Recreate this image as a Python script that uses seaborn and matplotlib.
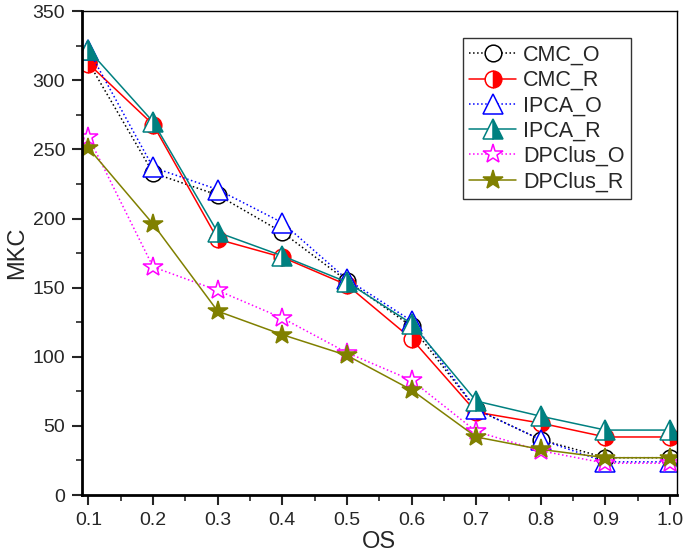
import matplotlib
matplotlib.use("Agg")
import matplotlib.pyplot as plt
import matplotlib.ticker as ticker
import seaborn as sns
import pandas as pd

# values
os_values = [0.1, 0.2, 0.3, 0.4, 0.5, 0.6, 0.7, 0.8, 0.9, 1.0]
cmc_o = [313, 233, 217, 190, 155, 122, 62, 40, 27, 27]
cmc_r = [312, 268, 185, 172, 152, 113, 60, 52, 42, 42]
ipca_o = [322, 237, 221, 197, 156, 126, 62, 40, 24, 24]
ipca_r = [322, 270, 190, 173, 154, 124, 68, 57, 47, 47]
dpclus_o = [259, 165, 148, 128, 103, 83, 46, 32, 23, 23]
dpclus_r = [251, 196, 133, 116, 101, 76, 42, 33, 27, 27]

series = [
    ("CMC_O", cmc_o, dict(color="black", ls=":", marker="o", mfc="white", mec="black", ms=12)),
    ("CMC_R", cmc_r, dict(color="red", ls="-", marker="o", mfc="red", mec="red",
                          fillstyle="right", markerfacecoloralt="white", ms=12)),
    ("IPCA_O", ipca_o, dict(color="blue", ls=":", marker="^", mfc="white", mec="blue", ms=14)),
    ("IPCA_R", ipca_r, dict(color="#008080", ls="-", marker="^", mfc="#008080", mec="#008080",
                            fillstyle="right", markerfacecoloralt="white", ms=14)),
    ("DPClus_O", dpclus_o, dict(color="#ff00ff", ls=":", marker="*", mfc="white", mec="#ff00ff", ms=15)),
    ("DPClus_R", dpclus_r, dict(color="#808000", ls="-", marker="*", mfc="#808000", mec="#808000", ms=15)),
]

sns.set_style("white")
plt.rcParams["font.family"] = ["Liberation Sans", "DejaVu Sans"]

fig = plt.figure(figsize=(6.85, 5.6), dpi=100)
ax = fig.add_axes([0.1197, 0.116, 0.868, 0.864])

for name, vals, style in series:
    df = pd.DataFrame({"OS": os_values, "MKC": vals})
    sns.lineplot(data=df, x="OS", y="MKC", ax=ax, label=name, lw=1.1, mew=1.1, **style)

ax.set_xlim(0.09, 1.01)
ax.set_ylim(0, 350)
ax.xaxis.set_major_locator(ticker.MultipleLocator(0.1))
ax.xaxis.set_minor_locator(ticker.MultipleLocator(0.05))
ax.yaxis.set_major_locator(ticker.MultipleLocator(50))
ax.yaxis.set_minor_locator(ticker.MultipleLocator(25))
ax.xaxis.set_major_formatter(ticker.FormatStrFormatter("%.1f"))

ax.tick_params(which="major", direction="out", length=7, width=1.5, labelsize=14, pad=5,
               bottom=True, left=True, top=False, right=False)
ax.tick_params(which="minor", direction="out", length=4, width=1.2,
               bottom=True, left=True, top=False, right=False)

for side in ["left", "bottom"]:
    ax.spines[side].set_linewidth(2)
for side in ["top", "right"]:
    ax.spines[side].set_linewidth(1)
for sp in ax.spines.values():
    sp.set_color("black")

ax.set_xlabel("OS", fontsize=17, labelpad=2)
ax.set_ylabel("MKC", fontsize=17, labelpad=3)

leg = ax.legend(loc="upper right", bbox_to_anchor=(0.923, 0.944), fontsize=15.5,
                frameon=True, fancybox=False, edgecolor="#333333", framealpha=1,
                handlelength=2.2, labelspacing=0.2, borderpad=0.3, handletextpad=0.3,
                borderaxespad=0)
leg.get_frame().set_linewidth(1)

fig.savefig("out.png", dpi=100)
